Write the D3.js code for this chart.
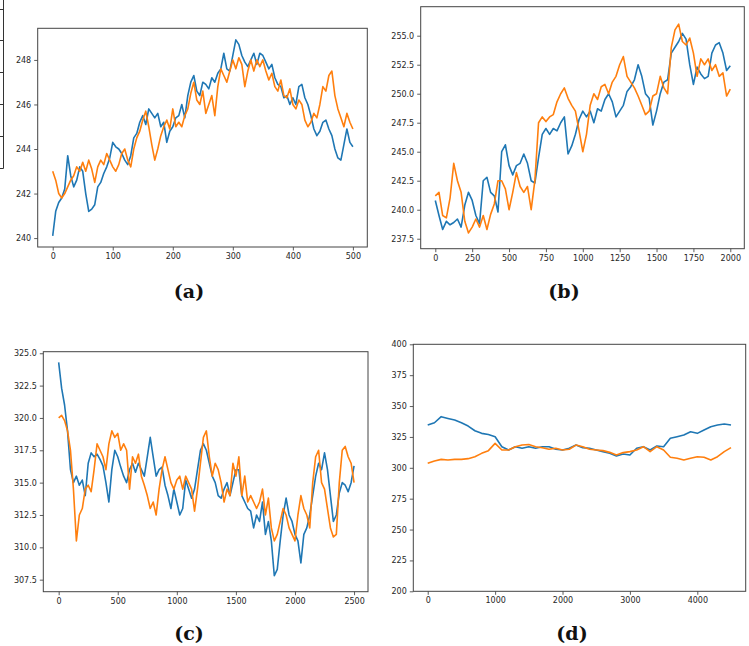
<!DOCTYPE html>
<meta charset="utf-8">
<style>
    body { margin: 0; background: #fff; }
    .tick text { font-family: "DejaVu Sans", sans-serif; font-size: 8px; fill: #262626; }
    .tick line { stroke: #333; stroke-width: 0.8; }
    .domain { display: none; }
    .frame { fill: none; stroke: #444; stroke-width: 1; }
    .series { fill: none; stroke-width: 1.6; stroke-linejoin: round; }
    .caption { font-family: "DejaVu Serif", serif; font-weight: bold; font-size: 19px; text-anchor: middle; fill: #111; }
</style>

<body>
    <svg width="749" height="646"></svg>
    <script src="https://d3js.org/d3.v7.min.js"></script>
    <script>
        // (a) sampled every 5 steps
        var aBlue = [240.1,
            241.2, 241.6, 241.8, 242.2, 243.7, 242.8, 242.3, 242.6, 243.2, 243.0,
            242.0, 241.2, 241.3, 241.5, 242.3, 242.5, 242.9, 243.2, 243.6, 244.3,
            244.1, 244.0, 243.8, 243.5, 243.3, 243.7, 244.5, 244.7, 245.2, 245.5,
            245.1, 245.8, 245.6, 245.4, 245.6, 245.0, 245.2, 244.3, 244.8, 245.0,
            245.4, 245.5, 246.0, 245.4, 246.4, 247.0, 247.3, 246.6, 246.4, 247.0,
            246.9, 246.7, 247.2, 247.0, 247.4, 247.6, 248.3, 247.6, 247.5, 248.2,
            248.9, 248.7, 248.2, 247.9, 247.7, 248.0, 248.3, 247.8, 248.3, 248.2,
            247.9, 247.6, 247.8, 247.2, 246.9, 246.8, 246.3, 246.4, 246.0, 246.3,
            246.0, 246.8, 246.9, 246.3, 246.0, 245.5, 244.9, 244.6, 244.8, 245.2,
            245.3, 244.9, 244.6, 244.0, 243.6, 243.5, 244.2, 244.9, 244.3, 244.1];
        var aOrange = [243.0,
            242.6, 242.0, 241.8, 242.0, 242.3, 242.6, 242.8, 243.2, 243.0, 243.4,
            243.0, 243.5, 243.1, 242.5, 243.2, 243.5, 243.3, 243.8, 243.5, 243.2,
            243.0, 243.3, 243.8, 244.0, 243.5, 243.2, 244.0, 244.5, 244.8, 245.3,
            245.7, 245.0, 244.2, 243.5, 244.0, 244.6, 245.0, 245.3, 244.9, 245.8,
            245.0, 245.2, 245.0, 245.5, 245.8, 246.5, 247.0, 246.2, 246.0, 246.6,
            245.6, 246.0, 246.4, 245.5, 246.8, 247.6, 247.3, 247.0, 247.5, 248.0,
            247.6, 248.1, 247.8, 246.8, 247.5, 248.0, 247.5, 248.0, 247.7, 248.0,
            247.5, 247.1, 247.4, 246.8, 246.6, 247.1, 246.4, 246.3, 246.7, 246.0,
            245.8, 246.2, 246.0, 245.3, 245.0, 245.2, 245.6, 245.4, 246.0, 246.8,
            246.6, 247.3, 247.5, 246.4, 245.8, 245.4, 245.0, 245.6, 245.2, 244.9];

        // (b) sampled every 25 steps
        var bBlue = [
            240.8, 239.5, 238.3, 239.0, 238.7, 238.9, 239.2, 238.5, 240.4, 241.5,
            240.8, 239.5, 238.8, 242.5, 242.8, 241.5, 241.2, 239.8, 245.0, 245.6,
            243.8, 243.0, 243.8, 244.0, 244.8, 244.0, 242.5, 242.3, 244.5, 246.5,
            247.0, 246.5, 247.0, 246.8, 247.5, 248.0, 244.8, 245.5, 246.5, 247.8,
            248.5, 248.0, 248.5, 247.5, 248.7, 248.5, 249.5, 250.0, 249.3, 248.0,
            248.5, 249.0, 250.2, 250.6, 251.2, 252.5, 251.5, 250.0, 249.6, 247.3,
            248.5, 250.0, 251.0, 251.2, 253.5, 254.0, 254.5, 255.2, 254.7, 252.5,
            250.8, 252.3, 251.7, 251.3, 251.5, 253.5, 254.2, 254.4, 253.5, 252.0,
            252.4];
        var bOrange = [
            241.2, 241.5, 239.5, 239.3, 241.0, 244.0, 242.5, 241.5, 239.0, 238.0,
            238.5, 239.2, 238.5, 239.5, 238.3, 239.6, 240.5, 242.5, 242.5, 241.8,
            240.0, 241.5, 243.2, 242.0, 241.5, 242.0, 240.0, 242.5, 247.5, 248.0,
            247.6, 248.0, 248.2, 249.3, 250.0, 250.5, 249.6, 249.0, 248.5, 246.8,
            245.0, 246.5, 249.0, 250.0, 249.5, 250.6, 250.8, 250.0, 251.0, 251.5,
            252.5, 253.2, 251.5, 251.0, 250.5, 249.8, 249.0, 248.2, 248.5, 249.8,
            250.0, 251.5, 250.5, 250.0, 254.0, 255.5, 256.0, 254.5, 254.2, 254.8,
            253.5, 251.5, 253.0, 252.5, 253.0, 252.0, 252.5, 251.5, 251.8, 249.8,
            250.4];

        // (c) sampled every 25 steps
        var cBlue = [
            324.3, 322.3, 321.0, 319.0, 316.0, 315.0, 315.5, 314.8, 315.2, 314.0,
            316.5, 317.3, 317.0, 317.2, 316.8, 316.3, 315.0, 313.5, 316.0, 317.5,
            317.0, 316.2, 315.5, 315.0, 316.0, 316.5, 315.8, 316.5, 316.0, 315.5,
            317.0, 318.5, 317.0, 315.5, 316.0, 316.2, 314.8, 314.0, 313.0, 314.5,
            313.5, 312.5, 313.0, 315.2, 314.5, 313.8, 314.5, 316.0, 317.5, 318.0,
            317.5, 316.5, 315.5, 315.0, 314.0, 313.8, 314.5, 315.0, 314.0, 315.0,
            316.0, 316.0, 314.0, 313.5, 313.0, 312.8, 311.5, 312.5, 312.0, 313.5,
            311.0, 312.0, 310.5, 307.8, 308.3, 310.5, 312.5, 313.8, 312.5, 312.0,
            311.0, 310.5, 308.8, 311.0, 311.5, 312.5, 314.0, 315.5, 316.5, 316.0,
            317.3, 316.0, 314.0, 312.0, 312.5, 314.2, 315.0, 314.8, 314.3, 315.0,
            316.3];
        var cOrange = [
            320.0, 320.2, 319.8, 319.0, 317.5, 314.5, 310.5, 312.5, 313.0, 314.5,
            314.8, 314.3, 316.0, 318.0, 317.5, 317.0, 316.0, 318.0, 319.0, 318.5,
            318.8, 317.5, 318.0, 317.5, 314.5, 317.0, 316.5, 317.2, 315.5, 314.8,
            314.0, 313.0, 313.5, 312.5, 314.5, 316.0, 317.0, 316.0, 315.0, 314.5,
            315.2, 315.5, 314.5, 315.5, 315.0, 314.5, 312.8, 314.5, 316.5, 318.5,
            319.0, 317.0, 315.5, 316.5, 316.0, 315.0, 313.5, 314.5, 314.0, 316.5,
            315.5, 317.0, 314.0, 315.5, 313.5, 314.0, 313.5, 313.0, 313.5, 314.5,
            312.5, 313.8, 311.5, 310.5, 311.0, 312.0, 313.0, 312.5, 311.5, 311.0,
            310.5, 312.5, 314.0, 313.0, 312.5, 311.5, 315.0, 317.0, 317.5, 315.0,
            314.5, 313.0, 311.5, 310.8, 311.0, 315.0, 317.5, 317.8, 317.0, 316.5,
            315.0];

        // (d) sampled every 100 steps
        var dBlue = [
            334.6, 336.5, 341.4, 340.0, 338.7, 336.5, 333.8, 330.0, 327.9, 327.0,
            325.2, 317.1, 314.4, 317.1, 315.8, 317.1, 315.8, 317.1, 317.1, 315.0,
            314.4, 315.8, 318.4, 316.3, 315.8, 314.4, 313.1, 311.7, 309.6, 311.2,
            310.4, 315.8, 317.1, 314.4, 317.6, 317.1, 323.9, 325.2, 326.5, 329.2,
            327.9, 330.6, 333.3, 334.6, 335.4, 334.6];
        var dOrange = [
            303.6, 305.5, 306.8, 306.3, 306.8, 306.8, 307.4, 309.0, 311.7, 313.9,
            319.8, 314.4, 314.4, 317.1, 318.4, 318.9, 317.1, 316.3, 315.0, 315.8,
            314.4, 315.0, 318.4, 317.1, 315.0, 314.4, 313.9, 312.5, 310.4, 312.3,
            313.1, 314.4, 317.1, 313.1, 317.1, 314.4, 308.5, 307.7, 306.3, 307.7,
            309.0, 308.5, 306.3, 309.0, 313.1, 316.3];

        var aXTicks = [0, 100, 200, 300, 400, 500],
            aYTicks = [240, 242, 244, 246, 248],
            bXTicks = [0, 250, 500, 750, 1000, 1250, 1500, 1750, 2000],
            bYTicks = [237.5, 240, 242.5, 245, 247.5, 250, 252.5, 255],
            cXTicks = [0, 500, 1000, 1500, 2000, 2500],
            cYTicks = [307.5, 310, 312.5, 315, 317.5, 320, 322.5, 325],
            dXTicks = [0, 1000, 2000, 3000, 4000],
            dYTicks = [200, 225, 250, 275, 300, 325, 350, 375, 400];

        var captions = ["(a)", "(b)", "(c)", "(d)"];
        var colors = ["#1f77b4", "#ff7f0e"];

        var panels = [
            { box: [37.7, 28.3, 367.3, 247], xd: [-25, 524], yd: [239.6, 249.42], step: 5,
              series: [aBlue, aOrange], xt: aXTicks, yt: aYTicks, yf: d3.format("d"), cap: [189, 298] },
            { box: [420.7, 6.7, 744.3, 248.7], xd: [-99, 2095], yd: [236.64, 257.5], step: 25,
              series: [bBlue, bOrange], xt: bXTicks, yt: bYTicks, yf: d3.format(".1f"), cap: [564, 298] },
            { box: [43.3, 351.7, 368, 591.7], xd: [-130, 2618], yd: [306.57, 325.12], step: 25,
              series: [cBlue, cOrange], xt: cXTicks, yt: cYTicks, yf: d3.format(".1f"), cap: [189, 640] },
            { box: [413.3, 344.3, 745.7, 591.3], xd: [-214, 4718], yd: [200, 400], step: 100,
              series: [dBlue, dOrange], xt: dXTicks, yt: dYTicks, yf: d3.format("d"), cap: [572, 640] }
        ];

        var svg = d3.select("svg");

        // cropped edge of a neighbouring figure at the far left
        svg.append("path")
            .attr("d", "M3.5,0V168.5H0M0,9.5H3.5M0,40.5H3.5M0,72.5H3.5M0,104.5H3.5M0,136.5H3.5")
            .attr("fill", "none")
            .attr("stroke", "#333")
            .attr("stroke-width", 1);

        panels.forEach(function (p, i) {
            var w = p.box[2] - p.box[0],
                h = p.box[3] - p.box[1];

            var x = d3.scaleLinear().domain(p.xd).range([0, w]),
                y = d3.scaleLinear().domain(p.yd).range([h, 0]);

            var g = svg.append("g")
                .attr("transform", "translate(" + p.box[0] + "," + p.box[1] + ")");

            g.append("g")
                .attr("transform", "translate(0," + h + ")")
                .call(d3.axisBottom(x).tickValues(p.xt).tickFormat(d3.format("d"))
                    .tickSize(3.5).tickPadding(3).tickSizeOuter(0));

            g.append("g")
                .call(d3.axisLeft(y).tickValues(p.yt).tickFormat(p.yf)
                    .tickSize(3.5).tickPadding(3).tickSizeOuter(0));

            g.append("defs").append("clipPath")
                .attr("id", "clip" + i)
                .append("rect").attr("width", w).attr("height", h);

            var line = d3.line()
                .x(function (d, k) { return x(k * p.step); })
                .y(function (d) { return y(d); });

            p.series.forEach(function (s, k) {
                g.append("path")
                    .datum(s)
                    .attr("class", "series")
                    .attr("clip-path", "url(#clip" + i + ")")
                    .attr("stroke", colors[k])
                    .attr("d", line);
            });

            g.append("rect")
                .attr("class", "frame")
                .attr("width", w)
                .attr("height", h);

            svg.append("text")
                .attr("class", "caption")
                .attr("x", p.cap[0])
                .attr("y", p.cap[1])
                .text(captions[i]);
        });
    </script>
</body>
